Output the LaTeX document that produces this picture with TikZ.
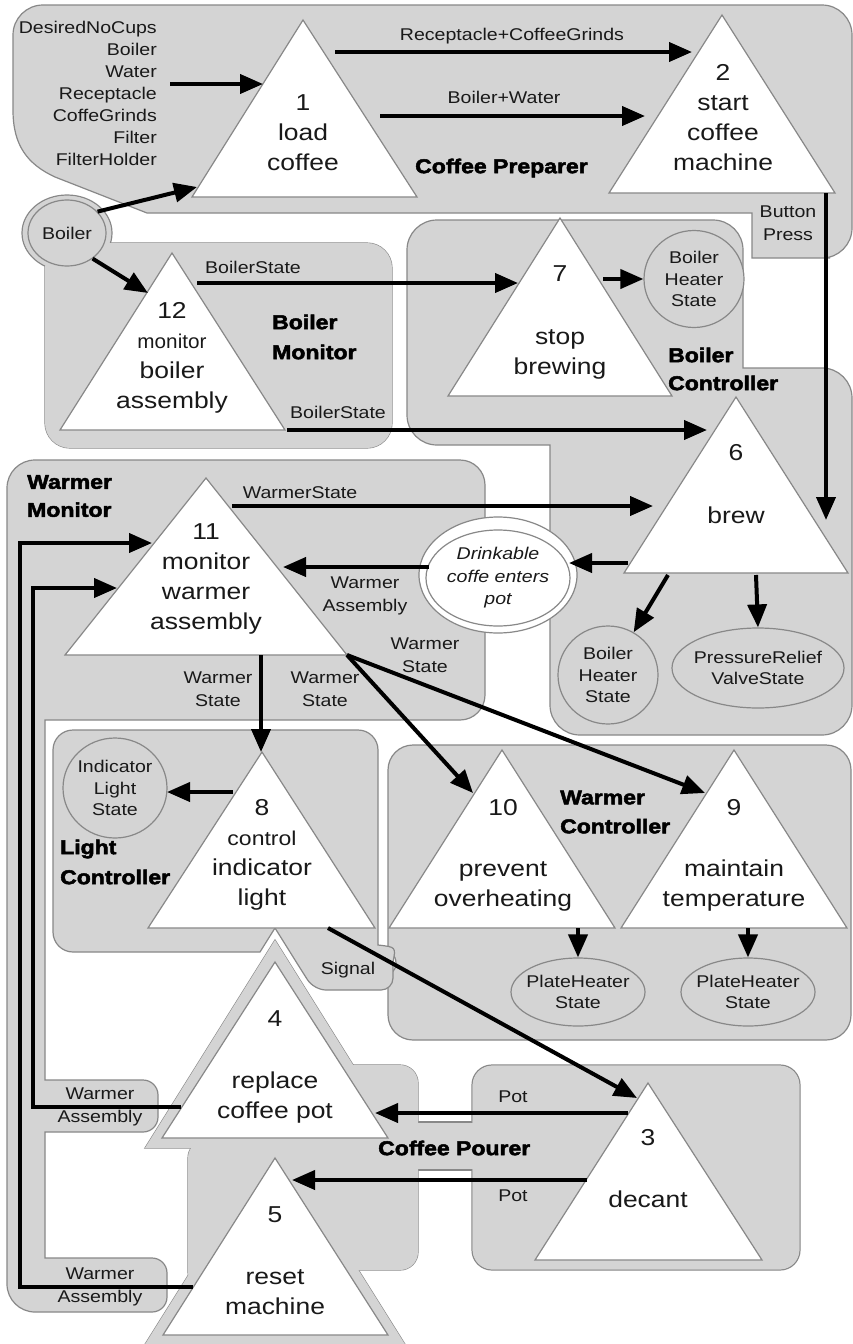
\documentclass[tikz,border=0pt]{standalone}
\usepackage{fontspec}
\setmainfont[FakeStretch=1.15, BoldFeatures={FakeBold=2.5}]{Liberation Sans}
\usepackage{graphicx}
\usetikzlibrary{arrows.meta,shapes.geometric}
\definecolor{rg}{HTML}{D4D4D4}
\definecolor{rb}{HTML}{888888}
\begin{document}
\begin{tikzpicture}[x=1pt,y=-1pt,
  region/.style={fill=rg, draw=rb, line width=1.2pt},
  tri/.style={fill=white, draw=rb, line width=1.2pt},
  arr/.style={line width=4pt, -{Triangle[length=23pt,width=19pt]}},
  lbl/.style={font=\fontsize{17}{22.5}\selectfont, align=center, inner sep=0pt, text=black!90},
  ttxt/.style={font=\fontsize{23}{30}\selectfont, align=center, inner sep=0pt, text=black!90},
  grp/.style={font=\bfseries\fontsize{20}{29}\selectfont, align=left, inner sep=0pt, anchor=west},
  st/.style={ellipse, fill=rg, draw=rb, line width=1.2pt, inner sep=-8pt, align=center, font=\fontsize{17}{21.5}\selectfont, text=black!90}]
\useasboundingbox (0,0) rectangle (853,1344);
\fill[white] (0,0) rectangle (853,1344);

% ---------- regions ----------
% Coffee Preparer
\path[region] (400,5) [rounded corners=30] -- (852,5) -- (852,258) -- (800,258) [sharp corners] -- (752,258) -- (752,213) -- (147,213) -- (55,177) .. controls (27,164) and (13,145) .. (13,110) -- (13,60) [rounded corners=30] -- (13,5) -- cycle;

% Boiler Monitor (with Boiler halo)
\path[region, rounded corners=25] (45,243) rectangle (392,448);
\path[region] (67,233) ellipse [x radius=45, y radius=38];
\fill[rg, rounded corners=25] (45,243) rectangle (392,448);
\fill[rg] (67,233) ellipse [x radius=44, y radius=37];

% Boiler Controller
\path[region] (600,220) [rounded corners=30] -- (743,220) -- (743,300) [sharp corners] -- (743,368) -- (800,368) [rounded corners=30] -- (852,368) -- (852,735) -- (550,735) -- (550,600) [sharp corners] -- (550,445) -- (480,445) [rounded corners=30] -- (407,445) -- (407,220) -- cycle;

% Warmer Monitor
\path[region] (200,460) [rounded corners=25] -- (485,460) -- (485,720) -- (300,720) [sharp corners] -- (45,720) -- (45,1080) -- (100,1080) [rounded corners=15] -- (158,1080) -- (158,1132) -- (100,1132) [sharp corners] -- (45,1132) -- (45,1258) -- (100,1258) [rounded corners=15] -- (167,1258) -- (167,1312) -- (80,1312) [rounded corners=28] -- (7,1312) -- (7,460) -- cycle;

% Warmer Controller
\path[region, rounded corners=25] (388,745) rectangle (851,1040);
\begin{scope}
  \clip (388,745) rectangle (851,1040);
  \path[fill=white, draw=rb, line width=1.2pt] (382,963) circle [radius=14];
\end{scope}

% Light Controller
\path[region] (200,730) [rounded corners=20] -- (378,730) -- (378,900) [sharp corners] -- (378,945) .. controls (396,947) .. (393,962) -- (393,970) [rounded corners=12] -- (393,990) -- (314,990) -- (300,968) [sharp corners] -- (275,928) -- (260,952) -- (150,952) [rounded corners=20] -- (53,952) -- (53,730) -- cycle;

% Coffee Pourer (union of pieces)
\path[region] (275,940) -- (405,1148) -- (145,1148) -- cycle;
\path[region, rounded corners=18] (300,1065) -- (418,1065) -- (418,1270) -- (300,1270) -- (300,1290) -- (188,1290) -- (188,1140) -- (300,1140) -- cycle;
\path[region] (405,1122) rectangle (480,1170);
\path[region, rounded corners=20] (472,1065) rectangle (800,1270);
\path[region] (275,1137) -- (418,1365) -- (132,1365) -- cycle;
\fill[rg] (275,940) -- (405,1148) -- (145,1148) -- cycle;
\fill[rg, rounded corners=18] (300,1065) -- (418,1065) -- (418,1270) -- (300,1270) -- (300,1290) -- (188,1290) -- (188,1140) -- (300,1140) -- cycle;
\fill[rg] (405,1122.6) rectangle (480,1169.4);
\fill[rg, rounded corners=20] (472.6,1065.6) rectangle (799.4,1269.4);
\fill[rg] (275,1137) -- (418,1365) -- (132,1365) -- cycle;

% Drinkable ring
\path[fill=white, draw=rb, line width=1.2pt] (498,575) ellipse [x radius=79, y radius=58];

% ---------- triangles ----------
\path[tri] (303,20) -- (417,197) -- (192,197) -- cycle;     % 1
\path[tri] (722,15) -- (835,193) -- (609,193) -- cycle;     % 2
\path[tri] (172,253) -- (285,430) -- (60,430) -- cycle;     % 12
\path[tri] (560,218) -- (672,396) -- (448,396) -- cycle;    % 7
\path[tri] (736,397) -- (848,573) -- (624,573) -- cycle;    % 6
\path[tri] (206,478) -- (347,655) -- (65,655) -- cycle;     % 11
\path[tri] (262,752) -- (375,928) -- (148,928) -- cycle;    % 8
\path[tri] (502,750) -- (615,928) -- (389,928) -- cycle;    % 10
\path[tri] (734,750) -- (847,928) -- (621,928) -- cycle;    % 9
\path[tri] (648,1083) -- (762,1260) -- (535,1260) -- cycle; % 3
\path[tri] (275,962) -- (388,1138) -- (162,1138) -- cycle;  % 4
\path[tri] (275,1158) -- (388,1335) -- (163,1335) -- cycle; % 5

\node[ttxt] (t1) at (303,133) {1\\load\\coffee};
\node[ttxt] (t2) at (723,118) {2\\start\\coffee\\machine};
\node[ttxt] (t12) at (172,358) {12\\{\fontsize{20}{30}\selectfont\scalebox{0.9}[1]{monitor}}\\boiler\\assembly};
\node[ttxt] (t7) at (560,322) {7\\[33pt]stop\\brewing};
\node[ttxt] (t6) at (736,484) {6\\[33pt]brew};
\node[ttxt] (t11) at (206,579) {11\\monitor\\warmer\\assembly};
\node[ttxt] (t8) at (262,855) {8\\{\fontsize{20}{30}\selectfont control}\\indicator\\light};
\node[ttxt] (t10) at (503,855) {10\\[31pt]prevent\\overheating};
\node[ttxt] (t9) at (734,855) {9\\[31pt]maintain\\temperature};
\node[ttxt] (t3) at (648,1169) {3\\[32pt]decant};
\node[ttxt] (t4) at (275,1067) {4\\[32pt]replace\\coffee pot};
\node[ttxt] (t5) at (275,1261) {5\\[32pt]reset\\machine};

% ---------- state ellipses ----------
\node[st, minimum width=78pt, minimum height=66pt] (boiler) at (67,233) {Boiler};
\node[st, minimum width=100pt, minimum height=97pt] (bhs1) at (694,279) {Boiler\\Heater\\State};
\node[st, minimum width=100pt, minimum height=98pt] (bhs2) at (608,675) {Boiler\\Heater\\State};
\node[st, minimum width=172pt, minimum height=80pt] (prv) at (758,668) {PressureRelief\\ValveState};
\node[st, fill=white, font=\itshape\fontsize{17}{22.5}\selectfont, minimum width=144pt, minimum height=96pt] (drink) at (498,578) {Drinkable\\coffe enters\\pot};
\node[st, minimum width=104pt, minimum height=100pt] (ils) at (115,788) {Indicator\\Light\\State};
\node[st, minimum width=134pt, minimum height=68pt] (ph1) at (578,992) {PlateHeater\\State};
\node[st, minimum width=134pt, minimum height=68pt] (ph2) at (748,992) {PlateHeater\\State};

% ---------- connector end points ----------
\coordinate (inA) at (170,84);   \coordinate (t1inA) at (263,84);
\coordinate (t1o1) at (335,52);  \coordinate (t2i1) at (692,52);
\coordinate (t1o2) at (380,116); \coordinate (t2i2) at (645,116);
\coordinate (t1i2) at (197,187); \coordinate (t12i) at (148,293);
\coordinate (t12o1) at (197,283); \coordinate (t7i) at (518,283);
\coordinate (t12o2) at (287,430); \coordinate (t6i1) at (707,430);
\coordinate (t7o) at (603,279);
\coordinate (t2o) at (826,193);  \coordinate (t6i3) at (826,520);
\coordinate (t11o1) at (232,506); \coordinate (t6i2) at (653,506);
\coordinate (t6o1) at (628,563); \coordinate (dri) at (569,563);
\coordinate (dro) at (429,567);  \coordinate (t11i3) at (283,567);
\coordinate (t6o2) at (668,575); \coordinate (t6o3) at (756,575);
\coordinate (t11o2) at (261,655); \coordinate (t8i) at (261,752);
\coordinate (t11o3) at (347,655); \coordinate (t10i) at (473,793); \coordinate (t9i) at (705,793);
\coordinate (t8o1) at (233,792); \coordinate (ilsi) at (167,792);
\coordinate (t8o2) at (328,928); \coordinate (t3i) at (637,1098);
\coordinate (t3o1) at (628,1113); \coordinate (t4i) at (375,1113);
\coordinate (t3o2) at (587,1180); \coordinate (t5i) at (292,1180);
\coordinate (t4o) at (181,1107); \coordinate (fb1) at (33,588);  \coordinate (t11i2) at (117,588);
\coordinate (t5o) at (193,1287); \coordinate (fb2) at (20,543);  \coordinate (t11i1) at (152,543);
\coordinate (t10o) at (578,928); \coordinate (t9o) at (748,928);

% ---------- connectors ----------
\draw[arr] (inA) -- (t1inA);
\draw[arr] (t1o1) -- (t2i1);
\draw[arr] (t1o2) -- (t2i2);
\draw[arr] (boiler.35) -- (t1i2);
\draw[arr] (boiler.-45) -- (t12i);
\draw[arr] (t12o1) -- (t7i);
\draw[arr] (t12o2) -- (t6i1);
\draw[arr] (t7o) -- (bhs1.west);
\draw[arr] (t2o) -- (t6i3);
\draw[arr] (t11o1) -- (t6i2);
\draw[arr] (t6o1) -- (dri);
\draw[arr] (dro) -- (t11i3);
\draw[arr] (t6o2) -- (bhs2);
\draw[arr] (t6o3) -- (prv.north);
\draw[arr] (t11o2) -- (t8i);
\draw[arr] (t11o3) -- (t10i);
\draw[arr] (t11o3) -- (t9i);
\draw[arr] (t8o1) -- (ilsi);
\draw[arr] (t8o2) -- (t3i);
\draw[arr] (t3o1) -- (t4i);
\draw[arr] (t3o2) -- (t5i);
\draw[arr] (t4o) -| (fb1) -- (t11i2);
\draw[arr] (t5o) -| (fb2) -- (t11i1);
\draw[arr] (t10o) -- (ph1.north);
\draw[arr] (t9o) -- (ph2.north);

% ---------- labels ----------
\node[lbl, anchor=east, align=right, font=\fontsize{17}{22}\selectfont] (inputs) at (157,93) {DesiredNoCups\\Boiler\\Water\\Receptacle\\CoffeGrinds\\Filter\\FilterHolder};
\node[lbl] (lRCG) at (512,36) {Receptacle+CoffeeGrinds};
\node[lbl] (lBW) at (504,97) {Boiler+Water};
\node[lbl] (lBS1) at (253,267) {BoilerState};
\node[lbl] (lBS2) at (338,412) {BoilerState};
\node[lbl] (lBP) at (788,223) {Button\\Press};
\node[lbl] (lWS1) at (300,493) {WarmerState};
\node[lbl] (lWA1) at (365,596) {Warmer\\Assembly};
\node[lbl] (lWS2) at (218,689) {Warmer\\State};
\node[lbl] (lWS3) at (325,689) {Warmer\\State};
\node[lbl] (lWS4) at (425,655) {Warmer\\State};
\node[lbl] (lSig) at (348,970) {Signal};
\node[lbl] (lPot1) at (513,1097) {Pot};
\node[lbl] (lPot2) at (513,1196) {Pot};
\node[lbl] (lWA2) at (100,1107) {Warmer\\Assembly};
\node[lbl] (lWA3) at (100,1287) {Warmer\\Assembly};

\node[grp] (gCP) at (415,168) {Coffee Preparer};
\node[grp, font=\bfseries\fontsize{20}{30}\selectfont] (gBM) at (272,337) {Boiler\\Monitor};
\node[grp, font=\bfseries\fontsize{20}{28}\selectfont] (gBC) at (668,369) {Boiler\\Controller};
\node[grp, font=\bfseries\fontsize{20}{28}\selectfont] (gWM) at (27,496) {Warmer\\Monitor};
\node[grp, font=\bfseries\fontsize{20}{30}\selectfont] (gLC) at (60,862) {Light\\Controller};
\node[grp] (gWC) at (560,812) {Warmer\\Controller};
\node[grp] (gCPo) at (378,1148) {Coffee Pourer};
\end{tikzpicture}
\end{document}
